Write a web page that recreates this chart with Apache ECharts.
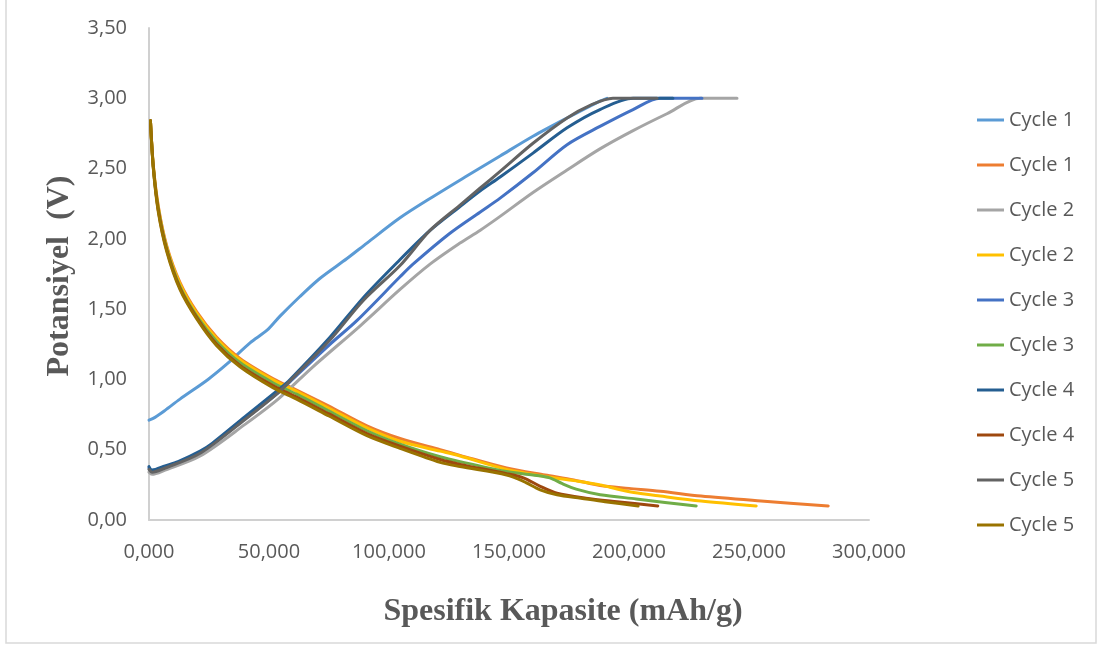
<!DOCTYPE html>
<html>
<head>
<meta charset="utf-8">
<script src="https://cdn.jsdelivr.net/npm/echarts@6/dist/echarts.min.js"></script>
<style>
  html, body { margin: 0; padding: 0; background: #ffffff; }
  #chart { width: 1103px; height: 645px; }
</style>
</head>
<body>
<div id="chart"></div>
<script>
// Specific capacity (mAh/g) and potential (V) for each charge / discharge curve
const c1ChargeCap = [0, 2.5, 6.7, 12.9, 24.6, 32.5, 42.1, 49.2, 54.6, 62.9, 71.3, 82.5, 90.8, 104.6, 118.3, 131.7, 146.3, 160.0, 174.2, 187.9, 190.8];
const c1ChargeV   = [0.71, 0.73, 0.78, 0.86, 1.00, 1.11, 1.26, 1.35, 1.45, 1.59, 1.72, 1.86, 1.97, 2.15, 2.30, 2.44, 2.59, 2.73, 2.86, 2.98, 3.00];

const c2ChargeCap = [0, 1.25, 6.7, 21.3, 40.0, 53.8, 68.3, 87.9, 104.6, 117.1, 129.6, 137.9, 146.3, 160.0, 174.2, 187.9, 201.7, 215.8, 229.6, 245.0];
const c2ChargeV   = [0.34, 0.325, 0.355, 0.455, 0.68, 0.86, 1.09, 1.38, 1.64, 1.82, 1.97, 2.06, 2.16, 2.33, 2.49, 2.64, 2.77, 2.89, 3.00, 3.00];

const c3ChargeCap = [0, 1.25, 6.7, 21.3, 40.0, 53.8, 58.8, 75.4, 86.7, 104.6, 110.0, 125.4, 137.9, 146.3, 160.0, 174.2, 187.9, 201.7, 212.9, 230.4];
const c3ChargeV   = [0.37, 0.345, 0.375, 0.48, 0.72, 0.905, 0.985, 1.25, 1.42, 1.73, 1.82, 2.04, 2.19, 2.29, 2.47, 2.67, 2.80, 2.92, 3.00, 3.00];

const c4ChargeCap = [0, 1.25, 6.7, 12.1, 21.3, 26.3, 40.0, 53.8, 58.8, 75.4, 89.2, 103.3, 117.1, 129.6, 137.9, 146.3, 160.0, 174.2, 187.9, 201.7, 218.3];
const c4ChargeV   = [0.38, 0.355, 0.385, 0.415, 0.49, 0.545, 0.735, 0.925, 1.00, 1.30, 1.58, 1.83, 2.06, 2.23, 2.34, 2.44, 2.61, 2.79, 2.92, 3.00, 3.00];

const c5ChargeCap = [0, 1.25, 6.7, 21.3, 40.0, 53.8, 58.8, 75.4, 89.2, 104.6, 117.1, 129.6, 137.9, 146.3, 160.0, 174.2, 183.8, 193.3, 211.7];
const c5ChargeV   = [0.36, 0.34, 0.37, 0.475, 0.715, 0.905, 0.99, 1.28, 1.56, 1.81, 2.06, 2.24, 2.36, 2.48, 2.68, 2.86, 2.95, 3.00, 3.00];

const c1DischargeCap = [0.6, 1.8, 3.9, 7.4, 12.9, 19.9, 28.2, 37.9, 51.8, 61.5, 75, 90.8, 104.6, 121.3, 129.6, 149, 165, 177, 188, 200, 213, 230, 255, 283];
const c1DischargeV   = [2.84, 2.52, 2.23, 1.95, 1.69, 1.48, 1.30, 1.15, 1.005, 0.925, 0.81, 0.67, 0.58, 0.50, 0.46, 0.37, 0.32, 0.285, 0.245, 0.225, 0.205, 0.17, 0.135, 0.10];

const c2DischargeCap = [0.6, 1.8, 3.9, 7.4, 12.9, 19.9, 28.2, 37.9, 51.8, 61.5, 75, 90.8, 104.6, 121.3, 129.6, 149, 165, 177, 188, 195, 202, 213, 230, 253];
const c2DischargeV   = [2.84, 2.52, 2.22, 1.94, 1.68, 1.47, 1.29, 1.14, 0.995, 0.915, 0.795, 0.655, 0.56, 0.49, 0.455, 0.36, 0.31, 0.28, 0.25, 0.22, 0.195, 0.17, 0.135, 0.10];

const c3DischargeCap = [0.6, 1.8, 3.9, 7.4, 12.9, 19.9, 28.2, 37.9, 51.8, 61.5, 75, 90.8, 104.6, 121.3, 129.6, 149, 160, 167, 172, 178, 188, 203, 215, 228];
const c3DischargeV   = [2.84, 2.51, 2.21, 1.93, 1.66, 1.45, 1.27, 1.12, 0.975, 0.895, 0.775, 0.635, 0.54, 0.45, 0.415, 0.345, 0.32, 0.30, 0.26, 0.22, 0.18, 0.15, 0.125, 0.10];

const c4DischargeCap = [0.6, 1.8, 3.9, 7.4, 12.9, 19.9, 28.2, 37.9, 51.8, 61.5, 75, 90.8, 104.6, 121.3, 129.6, 149, 156, 163, 170, 182, 195, 212];
const c4DischargeV   = [2.84, 2.51, 2.20, 1.92, 1.65, 1.44, 1.25, 1.10, 0.955, 0.875, 0.755, 0.615, 0.525, 0.43, 0.395, 0.33, 0.30, 0.24, 0.19, 0.155, 0.13, 0.10];

const c5DischargeCap = [0.6, 1.8, 3.9, 7.4, 12.9, 19.9, 28.2, 37.9, 51.8, 61.5, 75, 90.8, 104.6, 121.3, 129.6, 149, 156, 163, 170, 180, 190, 203.8];
const c5DischargeV   = [2.84, 2.50, 2.19, 1.91, 1.64, 1.43, 1.24, 1.09, 0.94, 0.86, 0.74, 0.60, 0.51, 0.41, 0.38, 0.32, 0.275, 0.215, 0.18, 0.155, 0.13, 0.10];

// Legend order: charge then discharge for each cycle
const seriesNames = [
  'Cycle 1 şarj', 'Cycle 1 deşarj',
  'Cycle 2 şarj', 'Cycle 2 deşarj',
  'Cycle 3 şarj', 'Cycle 3 deşarj',
  'Cycle 4 şarj', 'Cycle 4 deşarj',
  'Cycle 5 şarj', 'Cycle 5 deşarj'
];
const seriesCaps = [c1ChargeCap, c1DischargeCap, c2ChargeCap, c2DischargeCap, c3ChargeCap, c3DischargeCap, c4ChargeCap, c4DischargeCap, c5ChargeCap, c5DischargeCap];
const seriesVolts = [c1ChargeV, c1DischargeV, c2ChargeV, c2DischargeV, c3ChargeV, c3DischargeV, c4ChargeV, c4DischargeV, c5ChargeV, c5DischargeV];
const seriesColors = ['#5B9BD5', '#ED7D31', '#A5A5A5', '#FFC000', '#4472C4', '#70AD47', '#255E91', '#9E480E', '#636363', '#997300'];

const xTicks = { min: 0, max: 300, step: 50 };
const yTicks = { min: 0, max: 3.5, step: 0.5 };

const pair = (xs, ys) => xs.map((x, i) => [x, ys[i]]);
const trFmt = (v, d) => v.toFixed(d).replace('.', ',');

const labelFont = { fontFamily: '"Open Sans", sans-serif', fontSize: 20, color: '#595959' };

const chart = echarts.init(document.getElementById('chart'), null, { renderer: 'canvas' });

chart.setOption({
  animation: false,
  backgroundColor: '#ffffff',
  grid: { left: 149, right: 234, top: 28, bottom: 125, containLabel: false },
  xAxis: {
    type: 'value',
    min: xTicks.min, max: xTicks.max, interval: xTicks.step,
    axisLine: { show: true, lineStyle: { color: '#D0D0D0', width: 2 } },
    axisTick: { show: false },
    splitLine: { show: false },
    axisLabel: Object.assign({ margin: 22, formatter: v => trFmt(v, 3) }, labelFont)
  },
  yAxis: {
    type: 'value',
    min: yTicks.min, max: yTicks.max, interval: yTicks.step,
    axisLine: { show: true, lineStyle: { color: '#D0D0D0', width: 2 } },
    axisTick: { show: false },
    splitLine: { show: false },
    axisLabel: Object.assign({ margin: 22, formatter: v => trFmt(v, 2) }, labelFont)
  },
  legend: {
    orient: 'vertical',
    left: 977,
    top: 110,
    padding: 0,
    itemWidth: 27,
    itemHeight: 14,
    itemGap: 25,
    icon: 'path://M0,6 L27,6 L27,9 L0,9 Z',
    textStyle: { fontFamily: '"Open Sans", sans-serif', fontSize: 20, color: '#595959', lineHeight: 20 },
    formatter: name => name.split(' ').slice(0, 2).join(' '),
    data: seriesNames
  },
  graphic: [
    {
      type: 'rect', silent: true, z: -10,
      shape: { x: 6, y: -5, width: 1090, height: 648 },
      style: { fill: 'none', stroke: '#D9D9D9', lineWidth: 1.5 }
    },
    {
      type: 'text', silent: true,
      x: 563, y: 612,
      style: { text: 'Spesifik Kapasite (mAh/g)', font: 'bold 32px "Liberation Serif", serif', fill: '#595959', align: 'center', verticalAlign: 'middle' }
    },
    {
      type: 'text', silent: true,
      x: 60, y: 276, rotation: Math.PI / 2,
      style: { text: 'Potansiyel  (V)', font: 'bold 32px "Liberation Serif", serif', fill: '#595959', align: 'center', verticalAlign: 'middle' }
    }
  ],
  series: seriesNames.map((name, i) => ({
    name: name,
    type: 'line',
    data: pair(seriesCaps[i], seriesVolts[i]),
    showSymbol: false,
    symbol: 'none',
    smooth: 0.3,
    color: seriesColors[i],
    lineStyle: { color: seriesColors[i], width: 3, cap: 'round', join: 'round' },
    itemStyle: { color: seriesColors[i] },
    z: 2 + i
  }))
});
</script>
</body>
</html>
